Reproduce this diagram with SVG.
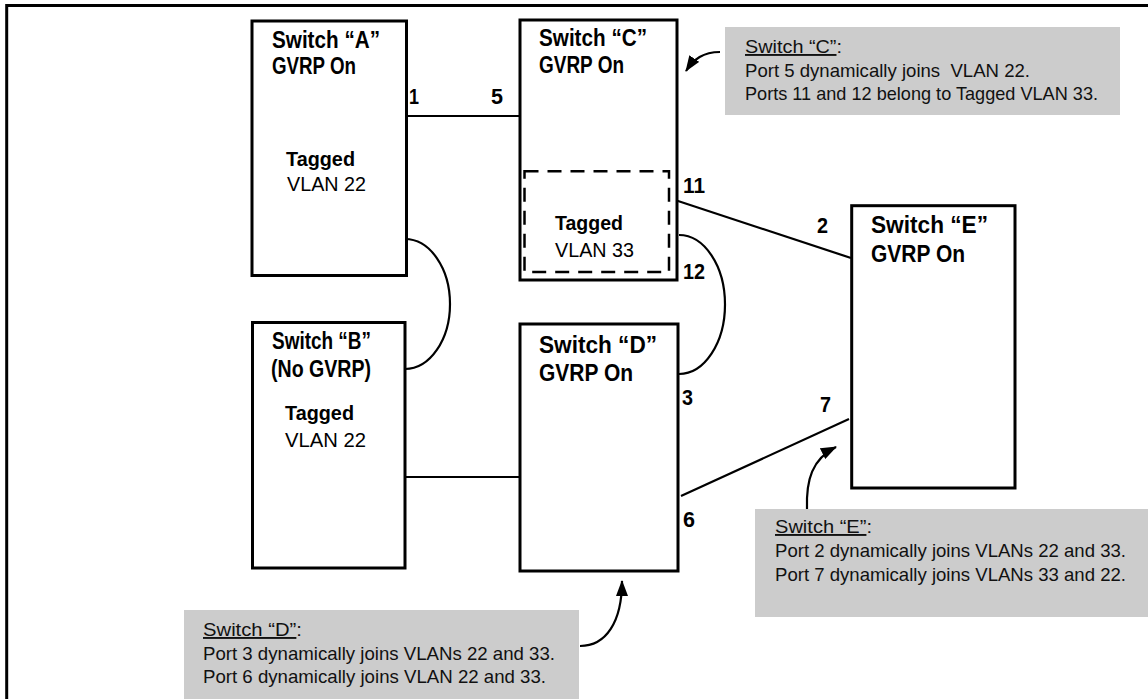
<svg xmlns="http://www.w3.org/2000/svg" width="1148" height="699" viewBox="0 0 1148 699">
<defs>
<style>
.box{fill:#fff;stroke:#000;stroke-width:3}
.dash{fill:none;stroke:#000;stroke-width:2.5;stroke-dasharray:14 9}
.ln{fill:none;stroke:#000;stroke-width:2.2}
.call{fill:#cccccc;stroke:none}
.t{font-family:"Liberation Sans",Arial,sans-serif;font-weight:bold;font-size:24px;fill:#000}
.tg{font-family:"Liberation Sans",Arial,sans-serif;font-weight:bold;font-size:21px;fill:#000}
.vl{font-family:"Liberation Sans",Arial,sans-serif;font-size:20px;fill:#000}
.p{font-family:"Liberation Sans",Arial,sans-serif;font-weight:bold;font-size:22px;fill:#000}
.c{font-family:"Liberation Sans",Arial,sans-serif;font-size:19px;fill:#111;white-space:pre}
</style>
<marker id="ah" markerUnits="userSpaceOnUse" markerWidth="16" markerHeight="12" viewBox="0 0 16 12" refX="15" refY="6" orient="auto">
<path d="M0,0 L16,6 L0,12 z" fill="#000"/>
</marker>
</defs>
<rect width="1148" height="699" fill="#fff"/>
<g id="frame">
<path d="M6.7,699 L6.7,5.5 L1148,5.5" fill="none" stroke="#000" stroke-width="3"/>
</g>
<g id="connectors">
<path class="ln" d="M406,116 L520,116"/>
<path class="ln" d="M405,477 L520,477"/>
<path class="ln" d="M675,200 L851,258"/>
<path class="ln" d="M681,496 L849,419"/>
<path class="ln" d="M405,239 A45,65 0 0 1 405,369"/>
<path class="ln" d="M679,235 A46,69.5 0 0 1 679,374"/>
</g>
<g id="switchA">
<rect class="box" x="252" y="21" width="154.5" height="254.5"/>
<text class="t" x="272" y="48" textLength="108" lengthAdjust="spacingAndGlyphs">Switch “A”</text>
<text class="t" x="272" y="74" textLength="84" lengthAdjust="spacingAndGlyphs">GVRP On</text>
<text class="tg" x="286" y="166" textLength="69" lengthAdjust="spacingAndGlyphs">Tagged</text>
<text class="vl" x="287" y="191" textLength="79" lengthAdjust="spacingAndGlyphs">VLAN 22</text>
</g>
<g id="switchC">
<rect class="box" x="520" y="20" width="157" height="260"/>
<rect class="dash" x="524.5" y="171.3" width="144.5" height="100.7"/>
<text class="t" x="539" y="46" textLength="108" lengthAdjust="spacingAndGlyphs">Switch “C”</text>
<text class="t" x="539" y="73" textLength="85" lengthAdjust="spacingAndGlyphs">GVRP On</text>
<text class="tg" x="555" y="230" textLength="68" lengthAdjust="spacingAndGlyphs">Tagged</text>
<text class="vl" x="555" y="257" textLength="79" lengthAdjust="spacingAndGlyphs">VLAN 33</text>
</g>
<g id="switchB">
<rect class="box" x="252.5" y="322.5" width="152.5" height="245.5"/>
<text class="t" x="272" y="349" textLength="99" lengthAdjust="spacingAndGlyphs">Switch “B”</text>
<text class="t" x="271" y="377" textLength="100" lengthAdjust="spacingAndGlyphs">(No GVRP)</text>
<text class="tg" x="285" y="420" textLength="69" lengthAdjust="spacingAndGlyphs">Tagged</text>
<text class="vl" x="285" y="447" textLength="81" lengthAdjust="spacingAndGlyphs">VLAN 22</text>
</g>
<g id="switchD">
<rect class="box" x="520" y="324" width="158" height="247"/>
<text class="t" x="539" y="353" textLength="118" lengthAdjust="spacingAndGlyphs">Switch “D”</text>
<text class="t" x="539" y="381" textLength="94" lengthAdjust="spacingAndGlyphs">GVRP On</text>
</g>
<g id="switchE">
<rect class="box" x="851.7" y="205.7" width="163.3" height="282.3"/>
<text class="t" x="871" y="233" textLength="117" lengthAdjust="spacingAndGlyphs">Switch “E”</text>
<text class="t" x="871" y="262" textLength="94" lengthAdjust="spacingAndGlyphs">GVRP On</text>
</g>
<g id="ports">
<text class="p" x="409" y="104" textLength="10" lengthAdjust="spacingAndGlyphs">1</text>
<text class="p" x="491" y="104" textLength="12" lengthAdjust="spacingAndGlyphs">5</text>
<text class="p" x="683" y="193" textLength="22" lengthAdjust="spacingAndGlyphs">11</text>
<text class="p" x="683" y="279" textLength="22" lengthAdjust="spacingAndGlyphs">12</text>
<text class="p" x="817" y="233" textLength="11" lengthAdjust="spacingAndGlyphs">2</text>
<text class="p" x="682" y="405" textLength="11" lengthAdjust="spacingAndGlyphs">3</text>
<text class="p" x="683" y="527" textLength="12" lengthAdjust="spacingAndGlyphs">6</text>
<text class="p" x="820" y="412" textLength="11" lengthAdjust="spacingAndGlyphs">7</text>
</g>
<g id="calloutC">
<rect class="call" x="725" y="27" width="395" height="88"/>
<text class="c" x="745" y="53" textLength="97" lengthAdjust="spacingAndGlyphs"><tspan text-decoration="underline">Switch “C”</tspan>:</text>
<text class="c" x="745" y="77" textLength="285" lengthAdjust="spacingAndGlyphs">Port 5 dynamically joins  VLAN 22.</text>
<text class="c" x="745" y="100" textLength="353" lengthAdjust="spacingAndGlyphs">Ports 11 and 12 belong to Tagged VLAN 33.</text>
<path class="ln" d="M720,52 C703,52 694,59 686,71" marker-end="url(#ah)"/>
</g>
<g id="calloutE">
<rect class="call" x="755" y="509" width="393" height="108"/>
<text class="c" x="775" y="533" textLength="97" lengthAdjust="spacingAndGlyphs"><tspan text-decoration="underline">Switch “E”</tspan>:</text>
<text class="c" x="775" y="557" textLength="351" lengthAdjust="spacingAndGlyphs">Port 2 dynamically joins VLANs 22 and 33.</text>
<text class="c" x="775" y="581" textLength="351" lengthAdjust="spacingAndGlyphs">Port 7 dynamically joins VLANs 33 and 22.</text>
<path class="ln" d="M807,509 C806,480 812,459 836,447" marker-end="url(#ah)"/>
</g>
<g id="calloutD">
<rect class="call" x="184" y="610" width="395" height="89"/>
<text class="c" x="203" y="636" textLength="99" lengthAdjust="spacingAndGlyphs"><tspan text-decoration="underline">Switch “D”</tspan>:</text>
<text class="c" x="203" y="660" textLength="352" lengthAdjust="spacingAndGlyphs">Port 3 dynamically joins VLANs 22 and 33.</text>
<text class="c" x="203" y="683" textLength="343" lengthAdjust="spacingAndGlyphs">Port 6 dynamically joins VLAN 22 and 33.</text>
<path class="ln" d="M580,646 C606,646 622,622 622,581" marker-end="url(#ah)"/>
</g>
</svg>
